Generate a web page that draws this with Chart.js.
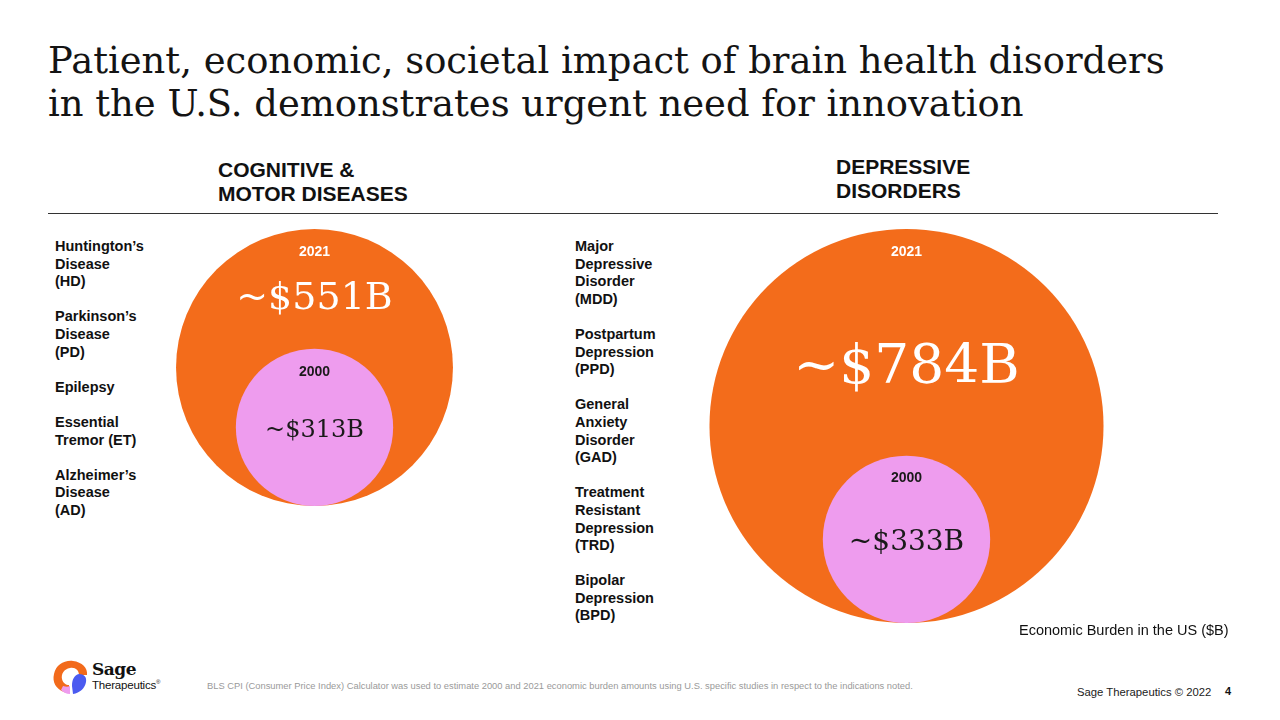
<!DOCTYPE html>
<html>
<head>
<meta charset="utf-8">
<script src="https://cdn.jsdelivr.net/npm/chart.js@4.4.1/dist/chart.umd.min.js"></script>
<style>
  html, body { margin: 0; padding: 0; background: #fff; }
  #slide { position: relative; width: 1280px; height: 720px; overflow: hidden; font-family: "Liberation Sans", Arial, sans-serif; color: #111; }
  .abs { position: absolute; }
  #title { left: 48px; top: 39px; font-family: "DejaVu Serif", Georgia, serif; font-size: 36.9px; line-height: 43px; color: #141414; white-space: nowrap; }
  .head { font-weight: bold; font-size: 21px; line-height: 24px; }
  #rule { left: 48px; top: 213px; width: 1170px; height: 0; border-top: 1.6px solid #333; }
  .list { font-weight: bold; font-size: 14.5px; line-height: 17.6px; }
  .list p { margin: 0 0 17.6px 0; }
  canvas { position: absolute; }
  #burden { left: 1019px; top: 622px; font-size: 14.5px; }
  #note { left: 207px; top: 681px; font-size: 9.35px; color: #9a9a9a; white-space: nowrap; }
  #copy { left: 1077px; top: 686px; font-size: 11.3px; color: #222; }
  #page { left: 1225px; top: 685px; font-size: 11px; font-weight: bold; }
</style>
</head>
<body>
<div id="slide">
  <div id="title" class="abs">Patient, economic, societal impact of brain health disorders<br>in the U.S. demonstrates urgent need for innovation</div>

  <div class="abs head" style="left:218px;top:158px;">COGNITIVE &amp;<br>MOTOR DISEASES</div>
  <div class="abs head" style="left:836px;top:155px;">DEPRESSIVE<br>DISORDERS</div>
  <div id="rule" class="abs"></div>

  <div id="leftList" class="abs list" style="left:55px;top:238px;"></div>
  <div id="rightList" class="abs list" style="left:575px;top:238px;"></div>

  <canvas id="cognitiveChart"></canvas>
  <canvas id="depressiveChart"></canvas>

  <div id="burden" class="abs">Economic Burden in the US ($B)</div>

  <svg class="abs" style="left:50px;top:656px;" width="42" height="42" viewBox="0 0 42 42">
    <path d="M14 36 C6 33 2 26 4 18 C6 9 14 4 23 5 C32 6 38 12 37 19 L29 19 C29 14 25 11 20 12 C14 13 11 18 12 23 C13 27 16 29 19 29 L19 37 C17 37 15.5 36.6 14 36 Z" fill="#F26A1B"/>
    <path d="M29 18 C34 18 37 21 36 26 C35 32 30 37 23 38 L22 30 C22 24 24 19 29 18 Z" fill="#4B5BF0"/>
    <path d="M13 30 C16 31 18 31 20 30 L20 38 C16 38 13 36 11 34 Z" fill="#EE9CEE"/>
  </svg>
  <div class="abs" style="left:92px;top:660px;font-family:'DejaVu Serif',Georgia,serif;font-weight:bold;font-size:17px;line-height:18px;letter-spacing:-0.5px;">Sage</div>
  <div class="abs" style="left:92px;top:679px;font-size:11.5px;letter-spacing:-0.2px;">Therapeutics<sup style="font-size:6px;">®</sup></div>

  <div id="note" class="abs">BLS CPI (Consumer Price Index) Calculator was used to estimate 2000 and 2021 economic burden amounts using U.S. specific studies in respect to the indications noted.</div>
  <div id="copy" class="abs">Sage Therapeutics © 2022</div>
  <div id="page" class="abs">4</div>
</div>

<script>
// data
const years = ["2021", "2000"];
const cognitiveBurden = [551, 313];   // $B
const depressiveBurden = [784, 333];  // $B
const cognitiveConditions = [
  "Huntington’s<br>Disease<br>(HD)",
  "Parkinson’s<br>Disease<br>(PD)",
  "Epilepsy",
  "Essential<br>Tremor (ET)",
  "Alzheimer’s<br>Disease<br>(AD)"
];
const depressiveConditions = [
  "Major<br>Depressive<br>Disorder<br>(MDD)",
  "Postpartum<br>Depression<br>(PPD)",
  "General<br>Anxiety<br>Disorder<br>(GAD)",
  "Treatment<br>Resistant<br>Depression<br>(TRD)",
  "Bipolar<br>Depression<br>(BPD)"
];

const ORANGE = "#F36C1B";
const PINK = "#EE9CEE";
const PX_PER_B = 0.2513; // same pixel scale for both panels
const BASE_PAD = 4;

document.getElementById("leftList").innerHTML = cognitiveConditions.map(c => `<p>${c}</p>`).join("");
document.getElementById("rightList").innerHTML = depressiveConditions.map(c => `<p>${c}</p>`).join("");

const bubbleLabels = {
  id: "bubbleLabels",
  afterDatasetsDraw(chart, args, opts) {
    const ctx = chart.ctx;
    ctx.save();
    ctx.textAlign = "center";
    ctx.textBaseline = "middle";
    chart.data.datasets.forEach((ds, i) => {
      const meta = chart.getDatasetMeta(i);
      meta.data.forEach((el, j) => {
        const r = el.options.radius;
        const top = el.y - r;
        const st = opts.styles[i];
        ctx.fillStyle = st.color;
        ctx.font = "bold 14px 'Liberation Sans', Arial, sans-serif";
        ctx.fillText(ds.label, el.x, top + 23);
        ctx.font = `${st.size}px 'DejaVu Serif', Georgia, serif`;
        const y = st.dy == null ? el.y + 3 : top + st.dy;
        ctx.fillText(`~$${ds.data[j].y}B`, el.x, y);
      });
    });
    ctx.restore();
  }
};

function makePanel(id, values, cx, bottom, styles) {
  const canvas = document.getElementById(id);
  const size = Math.ceil(2 * Math.max(...values) * PX_PER_B) + 2 * BASE_PAD;
  canvas.width = size;
  canvas.height = size;
  canvas.style.width = size + "px";
  canvas.style.height = size + "px";
  canvas.style.left = (cx - size / 2) + "px";
  canvas.style.top = (bottom + BASE_PAD - size) + "px";
  const half = size / 2 / PX_PER_B;

  return new Chart(canvas, {
    type: "bubble",
    data: {
      // circles sit on a common baseline: center y = value, radius = value (in px via PX_PER_B)
      datasets: years.map((yr, i) => ({
        label: yr,
        data: [{ x: 0, y: values[i], r: values[i] * PX_PER_B }],
        backgroundColor: i === 0 ? ORANGE : PINK,
        borderWidth: 0,
        hoverBorderWidth: 0,
        order: i === 0 ? 1 : 0, // 2000 bubble drawn on top of 2021
        clip: false
      }))
    },
    options: {
      responsive: false,
      animation: false,
      events: [],
      layout: { padding: 0, autoPadding: false },
      scales: {
        x: { type: "linear", display: false, min: -half, max: half },
        y: { type: "linear", display: false, min: -BASE_PAD / PX_PER_B, max: (size - BASE_PAD) / PX_PER_B }
      },
      plugins: {
        legend: { display: false },
        tooltip: { enabled: false },
        bubbleLabels: { styles }
      }
    },
    plugins: [bubbleLabels]
  });
}

makePanel("cognitiveChart", cognitiveBurden, 314, 506, [
  { color: "#ffffff", size: 38, dy: 70 },
  { color: "#1a1a1a", size: 24 }
]);
makePanel("depressiveChart", depressiveBurden, 906, 623, [
  { color: "#ffffff", size: 55, dy: 140 },
  { color: "#1a1a1a", size: 28 }
]);
</script>
</body>
</html>
